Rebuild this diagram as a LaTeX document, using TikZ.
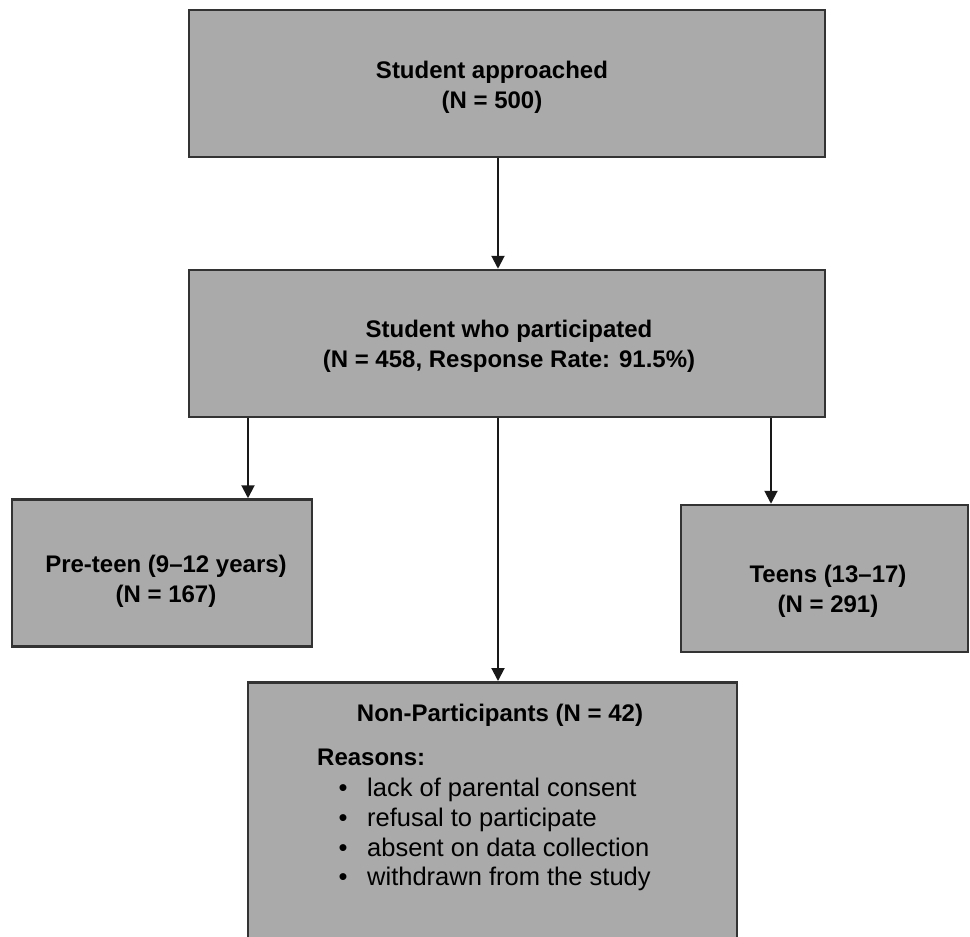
\documentclass[tikz,border=0pt]{standalone}
\usepackage{fontspec}
\setmainfont{Liberation Sans}
\usetikzlibrary{arrows.meta}

\definecolor{boxfill}{HTML}{AAAAAA}
\definecolor{boxline}{HTML}{333333}
\tikzset{
    box/.style={draw=boxline, line width=2.5pt, fill=boxfill, inner sep=0pt},
    title/.style={font=\fontsize{24}{30}\selectfont\bfseries, inner sep=0pt, anchor=base},
    item/.style={font=\fontsize{25.5}{30}\selectfont, inner sep=0pt, anchor=base west},
    arrow/.style={draw=black!90, line width=2pt, -{Triangle[length=13pt,width=13pt]}}
}

\begin{document}
\begin{tikzpicture}[x=1pt, y=-1pt]
        \useasboundingbox (0,0) rectangle (970,937);

        % 绘制方框
        \node[box, minimum width=636pt, minimum height=147pt] (approached) at (507,83.5) {};
        \node[box, minimum width=636pt, minimum height=147pt] (participated) at (507,343.5) {};
        \node[box, minimum width=300pt, minimum height=147pt] (preteen) at (162,573) {};
        \node[box, minimum width=287pt, minimum height=147pt] (teens) at (824.5,578.5) {};
        \node[box, minimum width=489pt, minimum height=280pt, anchor=north] (nonpart) at (492.5,681) {}; % 下边超出图外

        % 绘制箭头
        \draw[arrow] ([xshift=-9pt]approached.south) -- ([xshift=-9pt]approached.south |- participated.north);
        \draw[arrow] ([xshift=-259pt]participated.south) -- ([xshift=-259pt]participated.south |- preteen.north);
        \draw[arrow] ([xshift=-9pt]participated.south) -- ([xshift=-9pt]participated.south |- nonpart.north);
        \draw[arrow] ([xshift=264pt]participated.south) -- ([xshift=264pt]participated.south |- teens.north);

        % 添加标签
        \node[title] (approached1) at (492,78) {Student approached};
        \node[title] (approached2) at (492,108) {(N = 500)};
        \node[title] (participated1) at (509,337) {Student who participated};
        \node[title] (participated2) at (509,367) {(N = 458, Response Rate: 91.5\%)};
        \node[title] (preteen1) at (166,572) {Pre-teen (9–12 years)};
        \node[title] (preteen2) at (166,602) {(N = 167)};
        \node[title] (teens1) at (828,582) {Teens (13–17)};
        \node[title] (teens2) at (828,612) {(N = 291)};
        \node[title] (nonpart1) at (500,721) {Non-Participants (N = 42)};

        % 原因列表
        \node[title, anchor=base west] (reasons) at (317,765) {Reasons:};
        \node[item] (reason1) at (338.5,796) {\makebox[28.5pt][l]{•}lack of parental consent};
        \node[item] (reason2) at (338.5,826) {\makebox[28.5pt][l]{•}refusal to participate};
        \node[item] (reason3) at (338.5,856) {\makebox[28.5pt][l]{•}absent on data collection};
        \node[item] (reason4) at (338.5,885) {\makebox[28.5pt][l]{•}withdrawn from the study};
    \end{tikzpicture}
\end{document}
